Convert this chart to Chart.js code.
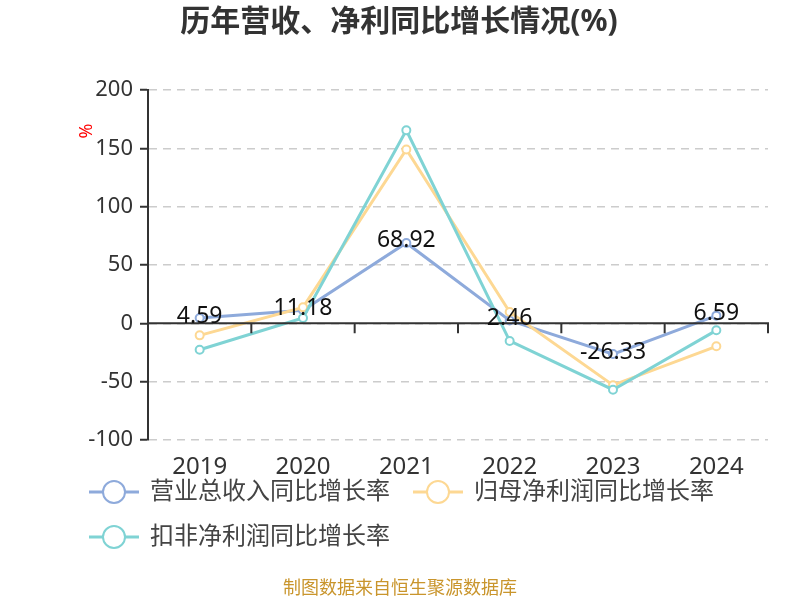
<!DOCTYPE html>
<html lang="zh">
<head>
  <meta charset="UTF-8" />
  <title>历年营收、净利同比增长情况(%)</title>
  <script src="https://cdn.jsdelivr.net/npm/chart.js"></script>
  <style>
    body {
      margin: 0;
      background: #ffffff;
    }
    .wrap {
      position: relative;
      width: 800px;
      height: 600px;
    }
  </style>
</head>
<body>
  <div class="wrap">
    <canvas id="growthChart" width="800" height="600"></canvas>
  </div>

  <script>
    // data
    const years = ['2019', '2020', '2021', '2022', '2023', '2024'];
    const revenueGrowth = [4.59, 11.18, 68.92, 2.46, -26.33, 6.59];
    const netProfitGrowth = [-10.3, 13.7, 149, 9.7, -53, -19.7];
    const deductedProfitGrowth = [-22.6, 4.6, 165.4, -15.1, -56.9, -6];
    const seriesNames = ['营业总收入同比增长率', '归母净利润同比增长率', '扣非净利润同比增长率'];
    const seriesColors = ['#8eaadb', '#fdd893', '#7fd3d4'];

    const FONT = '"Noto Sans", "Noto Sans CJK SC", sans-serif';

    // title, unit label, zero axis, value labels, legend and source note
    const extras = {
      id: 'extras',
      afterDraw(chart) {
        const ctx = chart.ctx;
        const area = chart.chartArea;
        const x = chart.scales.x;
        const y = chart.scales.y;
        ctx.save();

        // title
        ctx.fillStyle = '#333';
        ctx.font = 'bold 30px ' + FONT;
        ctx.textAlign = 'center';
        ctx.textBaseline = 'middle';
        ctx.fillText('历年营收、净利同比增长情况(%)', 399, 22);

        // "%" unit, rotated
        ctx.save();
        ctx.translate(87, 131);
        ctx.rotate(-Math.PI / 2);
        ctx.fillStyle = '#ff0000';
        ctx.font = '18px ' + FONT;
        ctx.fillText('%', 0, 0);
        ctx.restore();

        // x axis line at zero with ticks between categories
        const y0 = y.getPixelForValue(0);
        ctx.strokeStyle = '#333';
        ctx.lineWidth = 2;
        ctx.beginPath();
        ctx.moveTo(area.left, y0);
        ctx.lineTo(area.right + 1, y0);
        for (let i = 1; i <= years.length; i++) {
          const bx = i < years.length
            ? (x.getPixelForValue(i - 1) + x.getPixelForValue(i)) / 2
            : area.right;
          ctx.moveTo(bx, y0);
          ctx.lineTo(bx, y0 + 10);
        }
        ctx.stroke();

        // value labels on revenue series
        const meta = chart.getDatasetMeta(0);
        ctx.fillStyle = '#111';
        ctx.font = '23px ' + FONT;
        ctx.textAlign = 'center';
        ctx.textBaseline = 'middle';
        meta.data.forEach((pt, i) => {
          ctx.fillText(revenueGrowth[i].toFixed(2), pt.x, pt.y - 2);
        });

        // legend
        const items = [
          { cx: 114, cy: 492 },
          { cx: 438, cy: 492 },
          { cx: 114, cy: 537 }
        ];
        ctx.font = '24px ' + FONT;
        ctx.textAlign = 'left';
        items.forEach((it, i) => {
          ctx.strokeStyle = seriesColors[i];
          ctx.lineWidth = 3;
          ctx.beginPath();
          ctx.moveTo(it.cx - 25, it.cy);
          ctx.lineTo(it.cx + 25, it.cy);
          ctx.stroke();
          ctx.fillStyle = '#fff';
          ctx.lineWidth = 2;
          ctx.beginPath();
          ctx.arc(it.cx, it.cy, 11, 0, Math.PI * 2);
          ctx.fill();
          ctx.stroke();
          ctx.fillStyle = '#444';
          ctx.fillText(seriesNames[i], it.cx + 36, it.cy);
        });

        // source
        ctx.fillStyle = '#c9952c';
        ctx.font = '18px ' + FONT;
        ctx.textAlign = 'center';
        ctx.fillText('制图数据来自恒生聚源数据库', 400, 589);

        ctx.restore();
      }
    };

    function lineSet(label, data, color, order) {
      return {
        label: label,
        data: data,
        borderColor: color,
        backgroundColor: '#ffffff',
        borderWidth: 3,
        pointRadius: 4,
        pointBorderWidth: 2,
        pointBackgroundColor: '#ffffff',
        pointBorderColor: color,
        tension: 0,
        order: order
      };
    }

    new Chart(document.getElementById('growthChart'), {
      type: 'line',
      data: {
        labels: years,
        datasets: [
          lineSet(seriesNames[0], revenueGrowth, seriesColors[0], 2),
          lineSet(seriesNames[1], netProfitGrowth, seriesColors[1], 1),
          lineSet(seriesNames[2], deductedProfitGrowth, seriesColors[2], 0)
        ]
      },
      options: {
        responsive: false,
        animation: false,
        layout: { padding: { top: 90, right: 32, bottom: 0, left: 0 } },
        plugins: {
          legend: { display: false },
          title: { display: false },
          tooltip: { enabled: false }
        },
        scales: {
          x: {
            offset: true,
            grid: { display: false },
            border: { display: false },
            ticks: { color: '#333', font: { size: 24, family: FONT }, padding: 5 },
            afterFit(scale) { scale.height = 160; }
          },
          y: {
            min: -100,
            max: 200,
            ticks: { stepSize: 50, color: '#333', font: { size: 22, family: FONT }, padding: 7 },
            grid: {
              color: '#cccccc',
              lineWidth: 1.5,
              drawTicks: true,
              tickLength: 8,
              tickColor: '#333',
              tickWidth: 2,
              tickBorderDash: []
            },
            border: { display: true, color: '#333', width: 2, dash: [8, 6] },
            afterFit(scale) { scale.width = 148; }
          }
        }
      },
      plugins: [extras]
    });
  </script>
</body>
</html>
